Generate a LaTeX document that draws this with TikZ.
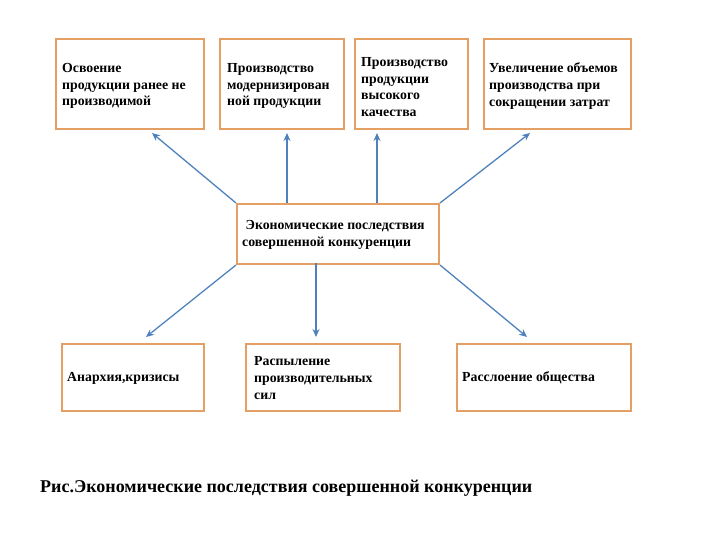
\documentclass[tikz,border=0pt]{standalone}
\usepackage{fontspec}
\setmainfont{Liberation Serif}
\usetikzlibrary{arrows.meta}
\definecolor{boxline}{RGB}{228,160,100}
\definecolor{arrowblue}{RGB}{79,129,189}
\tikzset{
  boxtext/.style={inner sep=0pt, anchor=west, align=left,
    font=\fontsize{13.8}{16.6}\selectfont\bfseries},
  frame/.style={draw=boxline, line width=2pt, anchor=north west, inner sep=0pt},
  conn/.style={draw=arrowblue, line width=1.3pt, -{Stealth[length=8pt,width=7pt]}}
}
\begin{document}
\begin{tikzpicture}[x=1pt,y=-1pt]
\useasboundingbox (0,0) rectangle (720,540);
% top boxes
\node[frame, minimum width=148pt, minimum height=90pt] (f1) at (55,38) {};
\node[boxtext] (b1) at (62,86) {Освоение\\продукции ранее не\\производимой};
\node[frame, minimum width=124pt, minimum height=90pt] (f2) at (219,38) {};
\node[boxtext] (b2) at (227,86) {Производство\\модернизирован\\ной продукции};
\node[frame, minimum width=113pt, minimum height=90pt] (f3) at (354,38) {};
\node[boxtext] (b3) at (361,87) {Производство\\продукции\\высокого\\качества};
\node[frame, minimum width=147pt, minimum height=90pt] (f4) at (483,38) {};
\node[boxtext] (b4) at (489,86) {Увеличение объемов\\производства при\\сокращении затрат};
% center box
\node[frame, minimum width=202pt, minimum height=60pt] (c) at (236,203) {};
\node[boxtext] (ct) at (242,235) {\ Экономические последствия\\совершенной конкуренции};
% bottom boxes
\node[frame, minimum width=142pt, minimum height=67pt] (d1) at (61,343) {};
\node[boxtext] (d1t) at (67,378) {Анархия,кризисы};
\node[frame, minimum width=154pt, minimum height=67pt] (d2) at (245,343) {};
\node[boxtext] (d2t) at (254,378) {Распыление\\производительных\\сил};
\node[frame, minimum width=174pt, minimum height=67pt] (d3) at (456,343) {};
\node[boxtext] (d3t) at (462,378) {Расслоение общества};
% arrow ends
\coordinate (t1) at (152,133);
\coordinate (t2) at (287,133);
\coordinate (t3) at (377,133);
\coordinate (t4) at (530,133);
\coordinate (s1) at (287,203);
\coordinate (s2) at (377,203);
\coordinate (u1) at (146,337);
\coordinate (u2) at (316,337);
\coordinate (u3) at (527,337);
\coordinate (s3) at (316,263);
\draw[conn] (c.north west) -- (t1);
\draw[conn] (s1) -- (t2);
\draw[conn] (s2) -- (t3);
\draw[conn] (c.north east) -- (t4);
\draw[conn] (c.south west) -- (u1);
\draw[conn] (s3) -- (u2);
\draw[conn] (c.south east) -- (u3);
% caption
\node[anchor=west, font=\fontsize{18}{21}\selectfont\bfseries, inner sep=0pt] (cap) at (40,488) {Рис.Экономические последствия совершенной конкуренции};
\end{tikzpicture}
\end{document}
